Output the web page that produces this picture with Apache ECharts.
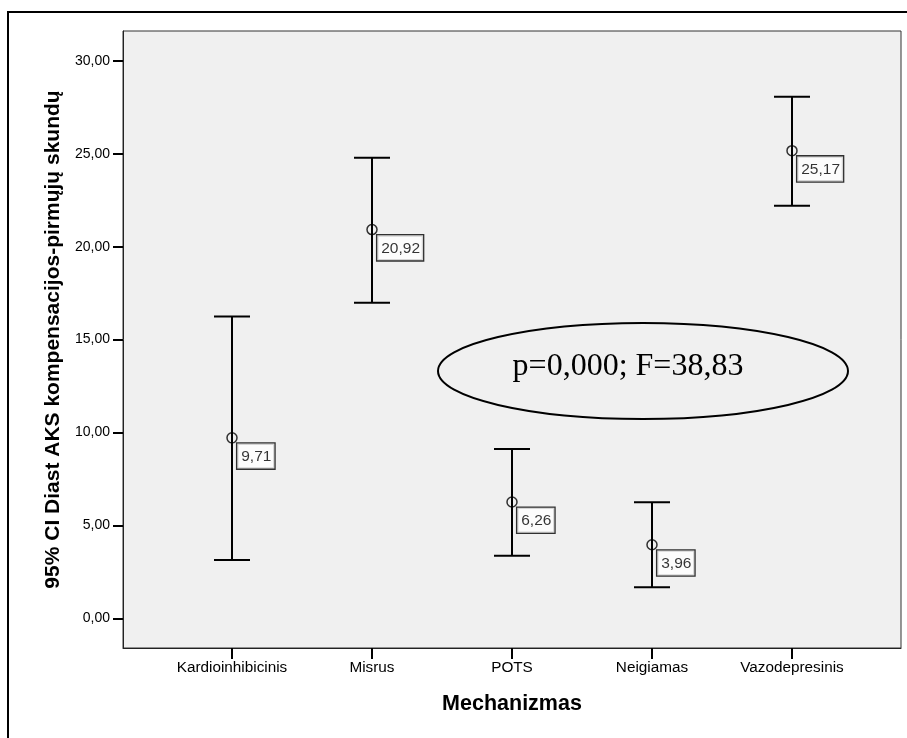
<!DOCTYPE html>
<html>
<head>
<meta charset="utf-8">
<script src="https://cdn.jsdelivr.net/npm/echarts@6/dist/echarts.min.js"></script>
<style>
html,body{margin:0;padding:0;background:#fff;}
#chart{width:907px;height:738px;}
</style>
</head>
<body>
<div id="chart"></div>
<script>
const categories = ['Kardioinhibicinis', 'Misrus', 'POTS', 'Neigiamas', 'Vazodepresinis'];
const means = [9.71, 20.92, 6.26, 3.96, 25.17];
const lower = [3.14, 16.98, 3.37, 1.67, 22.21];
const upper = [16.24, 24.79, 9.11, 6.24, 28.07];
const yTicks = [0, 5, 10, 15, 20, 25, 30];
const xTicks = [0, 1, 2, 3, 4];
const yTitle = '95% CI Diast AKS kompensacijos-pirmųjų skundų';
const xTitle = 'Mechanizmas';
const note = 'p=0,000; F=38,83';

const fmt = v => v.toFixed(2).replace('.', ',');
const errData = categories.map((c, i) => [i, lower[i], upper[i]]);
const meanData = categories.map((c, i) => [i, means[i]]);

const SANS = 'Arial, "Liberation Sans", sans-serif';
const SERIF = '"Times New Roman", "Liberation Serif", serif';

const chart = echarts.init(document.getElementById('chart'), null, {renderer: 'canvas'});
chart.setOption({
  animation: false,
  backgroundColor: '#ffffff',
  grid: {
    left: 123, top: 31, right: 6, bottom: 90,
    show: true, backgroundColor: '#f0f0f0', borderColor: '#333333', borderWidth: 1
  },
  xAxis: {
    type: 'value', min: -0.7786, max: 4.7786,
    name: xTitle, nameLocation: 'middle', nameGap: 45,
    nameTextStyle: {fontFamily: SANS, fontWeight: 'bold', fontSize: 21.5, color: '#000'},
    axisLine: {show: true, onZero: false, lineStyle: {color: '#222', width: 1}},
    axisTick: {show: true, customValues: xTicks, length: 11, lineStyle: {color: '#000', width: 2}},
    axisLabel: {
      customValues: xTicks, margin: 12, fontFamily: SANS, fontSize: 15.3, color: '#000',
      formatter: v => categories[Math.round(v)] || ''
    },
    splitLine: {show: false}
  },
  yAxis: {
    type: 'value', min: -1.6, max: 31.61,
    name: yTitle, nameLocation: 'middle', nameRotate: 90, nameGap: 52,
    nameTextStyle: {fontFamily: SANS, fontWeight: 'bold', fontSize: 21, color: '#000'},
    axisLine: {show: true, onZero: false, lineStyle: {color: '#222', width: 1}},
    axisTick: {show: true, customValues: yTicks, length: 10, lineStyle: {color: '#000', width: 2}},
    axisLabel: {
      customValues: yTicks, margin: 13, fontFamily: SANS, fontSize: 14, color: '#000',
      formatter: v => fmt(v)
    },
    splitLine: {show: false}
  },
  series: [
    {
      type: 'custom',
      data: errData,
      encode: {x: 0, y: [1, 2]},
      z: 2,
      renderItem: function (params, api) {
        const x = api.value(0);
        const lo = api.coord([x, api.value(1)]);
        const hi = api.coord([x, api.value(2)]);
        const hw = 18;
        const style = {stroke: '#000', lineWidth: 2};
        return {
          type: 'group',
          children: [
            {type: 'line', shape: {x1: lo[0], y1: lo[1], x2: hi[0], y2: hi[1]}, style: style},
            {type: 'line', shape: {x1: lo[0] - hw, y1: lo[1], x2: lo[0] + hw, y2: lo[1]}, style: style},
            {type: 'line', shape: {x1: hi[0] - hw, y1: hi[1], x2: hi[0] + hw, y2: hi[1]}, style: style}
          ]
        };
      }
    },
    {
      type: 'scatter',
      data: meanData,
      z: 3,
      symbol: 'circle',
      symbolSize: 10,
      itemStyle: {color: 'rgba(0,0,0,0)', borderColor: '#000', borderWidth: 1.5},
      label: {
        show: true,
        position: [11, 11.5],
        align: 'left',
        verticalAlign: 'top',
        formatter: p => fmt(p.value[1]),
        fontFamily: SANS, fontSize: 15.5, color: '#000',
        lineHeight: 16,
        backgroundColor: '#ffffff', borderColor: '#000', borderWidth: 1.3,
        padding: [5, 3, 4, 4]
      }
    }
  ],
  graphic: [
    {type: 'line', shape: {x1: 8, y1: 11, x2: 8, y2: 738}, style: {stroke: '#000', lineWidth: 2}, z: 10},
    {type: 'line', shape: {x1: 7, y1: 12, x2: 907, y2: 12}, style: {stroke: '#000', lineWidth: 2}, z: 10},
    {type: 'ellipse', shape: {cx: 643, cy: 371, rx: 205, ry: 48}, style: {fill: null, stroke: '#000', lineWidth: 2}, z: 10},
    {type: 'text', x: 628, y: 367, style: {text: note, fontFamily: SERIF, fontSize: 32, fill: '#000', align: 'center', verticalAlign: 'middle'}, z: 11}
  ]
});
</script>
</body>
</html>
